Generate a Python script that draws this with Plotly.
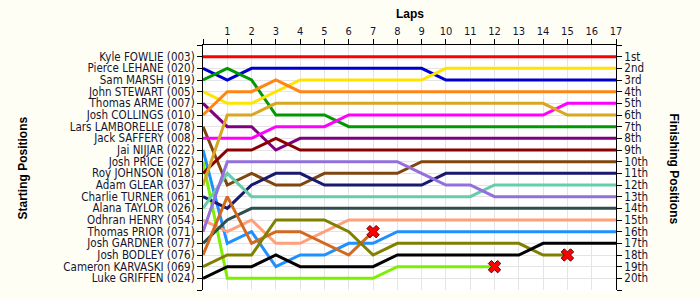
import plotly.graph_objects as go

laps = list(range(0, 18))
drivers = ["Kyle FOWLIE (003)", "Pierce LEHANE (020)", "Sam MARSH (019)", "John STEWART (005)",
           "Thomas ARME (007)", "Josh COLLINGS (010)", "Lars LAMBORELLE (078)", "Jack SAFFERY (008)",
           "Jai NIJJAR (022)", "Josh PRICE (027)", "Roy JOHNSON (018)", "Adam GLEAR (037)",
           "Charlie TURNER (061)", "Alana TAYLOR (026)", "Odhran HENRY (054)", "Thomas PRIOR (071)",
           "Josh GARDNER (077)", "Josh BODLEY (076)", "Cameron KARVASKI (069)", "Luke GRIFFEN (024)"]
finish_labels = ["1st", "2nd", "3rd", "4th", "5th", "6th", "7th", "8th", "9th", "10th",
                 "11th", "12th", "13th", "14th", "15th", "16th", "17th", "18th", "19th", "20th"]

# position at lap 0 (start) .. last lap completed
positions = [
    [1, 1, 1, 1, 1, 1, 1, 1, 1, 1, 1, 1, 1, 1, 1, 1, 1, 1],
    [2, 3, 2, 2, 2, 2, 2, 2, 2, 2, 3, 3, 3, 3, 3, 3, 3, 3],
    [3, 2, 3, 6, 6, 6, 7, 7, 7, 7, 7, 7, 7, 7, 7, 7, 7, 7],
    [4, 5, 5, 4, 3, 3, 3, 3, 3, 3, 2, 2, 2, 2, 2, 2, 2, 2],
    [5, 7, 7, 9, 8, 8, 8, 8, 8, 8, 8, 8, 8, 8, 8, 8, 8, 8],
    [6, 4, 4, 3, 4, 4, 4, 4, 4, 4, 4, 4, 4, 4, 4, 4, 4, 4],
    [7, 12, 11, 12, 12, 11, 11, 11, 11, 10, 10, 10, 10, 10, 10, 10, 10, 10],
    [8, 8, 8, 7, 7, 7, 6, 6, 6, 6, 6, 6, 6, 6, 6, 5, 5, 5],
    [9, 17, 16, 19, 18, 18, 17, 17, 16, 16, 16, 16, 16, 16, 16, 16, 16, 16],
    [10, 20, 20, 20, 20, 20, 20, 20, 19, 19, 19, 19, 19],
    [11, 9, 9, 8, 9, 9, 9, 9, 9, 9, 9, 9, 9, 9, 9, 9, 9, 9],
    [12, 6, 6, 5, 5, 5, 5, 5, 5, 5, 5, 5, 5, 5, 5, 6, 6, 6],
    [13, 14, 12, 11, 11, 12, 12, 12, 12, 12, 11, 11, 11, 11, 11, 11, 11, 11],
    [14, 11, 13, 13, 13, 13, 13, 13, 13, 13, 13, 13, 12, 12, 12, 12, 12, 12],
    [15, 16, 15, 17, 17, 16, 15, 15, 15, 15, 15, 15, 15, 15, 15, 15, 15, 15],
    [16, 10, 10, 10, 10, 10, 10, 10, 10, 11, 12, 12, 13, 13, 13, 13, 13, 13],
    [17, 15, 14, 14, 14, 14, 14, 14, 14, 14, 14, 14, 14, 14, 14, 14, 14, 14],
    [18, 13, 17, 16, 16, 17, 18, 16],
    [19, 18, 18, 15, 15, 15, 16, 18, 17, 17, 17, 17, 17, 17, 18, 18],
    [20, 19, 19, 18, 19, 19, 19, 19, 18, 18, 18, 18, 18, 18, 17, 17, 17, 17],
]
colors = ["#FF0000", "#0000CC", "#009900", "#FFE400", "#800080", "#FF8515", "#80460E", "#FF00FF",
          "#1E90FF", "#7CF000", "#8B0000", "#DAA520", "#191970", "#66CDAA", "#FFA07A", "#9370DB",
          "#2F4F4F", "#D2691E", "#808000", "#000000"]

TXT = "#141432"
FONT = "DejaVu Sans Condensed, DejaVu Sans"
TFONT = "Liberation Sans"

W, H = 700, 300
L, T = 203, 45
PW, PH = 413, 245
DX, DY = 1, 2

fig = go.Figure()

# shadows (subplot xy, offset)
for i, pos in enumerate(positions):
    fig.add_trace(go.Scatter(x=laps[:len(pos)], y=pos, mode="lines",
                             line=dict(color="rgba(0,0,0,0.28)", width=3),
                             xaxis="x", yaxis="y", hoverinfo="skip", showlegend=False))
# main lines
for i, pos in enumerate(positions):
    fig.add_trace(go.Scatter(x=laps[:len(pos)], y=pos, mode="lines",
                             line=dict(color=colors[i], width=3),
                             xaxis="x2", yaxis="y2", name=drivers[i], showlegend=False))
# retirement markers
for i, pos in enumerate(positions):
    if len(pos) < len(laps):
        fig.add_trace(go.Scatter(x=[laps[len(pos) - 1]], y=[pos[-1]], mode="markers",
                                 marker=dict(symbol="x", size=11, color="#FF0000",
                                             line=dict(color="#600000", width=1)),
                                 xaxis="x2", yaxis="y2", showlegend=False))
# invisible trace for right axis
fig.add_trace(go.Scatter(x=[0], y=[1], mode="markers", marker=dict(opacity=0),
                         xaxis="x2", yaxis="y3", showlegend=False, hoverinfo="skip"))

ticks_y = list(range(0, 22))
left_text = [""] + drivers + [""]
right_text = [""] + finish_labels + [""]
ticks_x = laps
top_text = [""] + [str(v) for v in laps[1:]]

fig.update_layout(
    width=W, height=H,
    margin=dict(l=L, r=W - L - PW - DX, t=T, b=H - T - PH - DY, pad=0),
    paper_bgcolor="#FFFEF4",
    plot_bgcolor="#FFFFFF",
    font=dict(family=FONT, size=11, color=TXT),
    xaxis=dict(domain=[DX / (PW + DX), 1], range=[0, 17], visible=False, fixedrange=True),
    yaxis=dict(domain=[0, PH / (PH + DY)], range=[21, 0], visible=False, fixedrange=True),
    xaxis2=dict(domain=[0, PW / (PW + DX)], range=[0, 17], anchor="y2", side="top",
                tickmode="array", tickvals=ticks_x, ticktext=top_text,
                ticks="outside", ticklen=5, tickcolor="black",
                showline=True, linecolor="black", linewidth=1,
                showgrid=True, gridcolor="#E4E4E4", gridwidth=1, zeroline=False,
                tickfont=dict(size=11, color=TXT, family=FONT)),
    yaxis2=dict(domain=[DY / (PH + DY), 1], range=[21, 0], anchor="x2",
                tickmode="array", tickvals=ticks_y, ticktext=left_text,
                ticks="outside", ticklen=5, tickcolor="black",
                showline=True, linecolor="black", linewidth=1,
                showgrid=True, gridcolor="#E4E4E4", gridwidth=1, zeroline=False,
                tickfont=dict(size=11.5, color=TXT, family=FONT)),
    yaxis3=dict(overlaying="y2", side="right", anchor="x2", range=[21, 0],
                tickmode="array", tickvals=ticks_y, ticktext=right_text,
                ticks="outside", ticklen=5, tickcolor="black",
                showline=True, linecolor="black", linewidth=1,
                showgrid=False, zeroline=False,
                tickfont=dict(size=11.5, color=TXT, family=FONT)),
    annotations=[
        dict(text="<b>Laps</b>", xref="paper", yref="paper", x=0.5, y=1, yshift=31,
             yanchor="middle", showarrow=False, font=dict(size=12, color="black", family=TFONT)),
        dict(text="<b>Starting Positions</b>", xref="paper", yref="paper",
             x=0, xshift=-181, xanchor="center", y=0.5, textangle=-90, showarrow=False,
             font=dict(size=12, color="black", family=TFONT)),
        dict(text="<b>Finishing Positions</b>", xref="paper", yref="paper",
             x=1, xshift=57, xanchor="center", y=0.5, textangle=90, showarrow=False,
             font=dict(size=12, color="black", family=TFONT)),
    ],
)

fig.write_html("out.html")
